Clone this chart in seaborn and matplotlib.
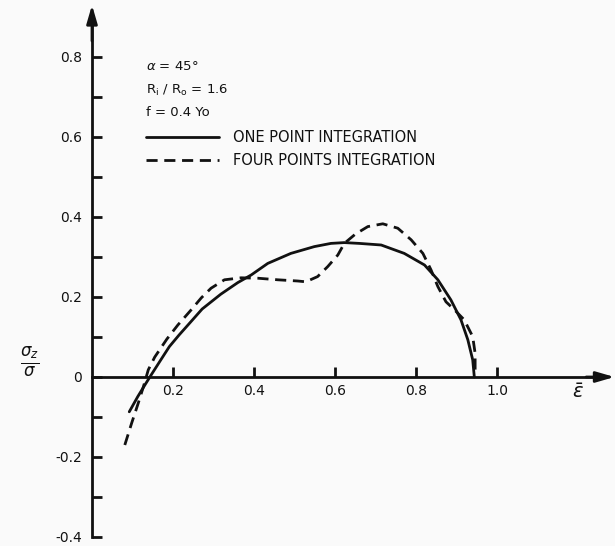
import matplotlib
matplotlib.use("Agg")
import matplotlib.pyplot as plt
import seaborn as sns
import pandas as pd

# ---- data ----
eps_one = [0.092, 0.113, 0.133, 0.146, 0.170, 0.191, 0.215, 0.244, 0.272, 0.318,
           0.360, 0.393, 0.434, 0.491, 0.549, 0.590, 0.623, 0.660, 0.714, 0.771,
           0.821, 0.854, 0.886, 0.911, 0.928, 0.940, 0.944]
sig_one = [-0.087, -0.049, -0.016, 0.005, 0.043, 0.076, 0.105, 0.138, 0.170, 0.207,
           0.236, 0.255, 0.284, 0.309, 0.326, 0.334, 0.336, 0.334, 0.330, 0.309,
           0.280, 0.243, 0.193, 0.143, 0.093, 0.043, 0.0]

eps_four = [0.081, 0.098, 0.114, 0.127, 0.139, 0.155, 0.185, 0.212, 0.245, 0.270,
            0.294, 0.327, 0.368, 0.409, 0.459, 0.508, 0.528, 0.557, 0.582, 0.607,
            0.623, 0.650, 0.681, 0.718, 0.755, 0.788, 0.817, 0.837, 0.854, 0.874,
            0.895, 0.919, 0.940, 0.946, 0.946]
sig_four = [-0.170, -0.115, -0.066, -0.024, 0.018, 0.050, 0.095, 0.130, 0.168, 0.198,
            0.222, 0.243, 0.248, 0.247, 0.243, 0.240, 0.238, 0.251, 0.276, 0.305,
            0.334, 0.357, 0.376, 0.383, 0.372, 0.343, 0.309, 0.268, 0.226, 0.188,
            0.168, 0.143, 0.101, 0.059, 0.015]

xtick_vals = [0.2, 0.4, 0.6, 0.8, 1.0]
xtick_labels = ["0.2", "0.4", "0.6", "0.8", "1.0"]
ytick_vals = [-0.4, -0.3, -0.2, -0.1, 0.0, 0.1, 0.2, 0.3, 0.4, 0.5, 0.6, 0.7, 0.8]
ytick_labels = ["-0.4", "", "-0.2", "", "0", "", "0.2", "", "0.4", "", "0.6", "", "0.8"]

series_names = ["ONE POINT INTEGRATION", "FOUR POINTS INTEGRATION"]
params_text = [r"$\alpha$ = 45°", r"R$_\mathregular{i}$ / R$_\mathregular{o}$ = 1.6", "f = 0.4 Yo"]

# ---- figure ----
sns.set_style("white")
plt.rcParams["font.family"] = ["DejaVu Sans"]
W, H = 615, 546
fig = plt.figure(figsize=(W / 100, H / 100), dpi=100)
fig.patch.set_facecolor("#fafafa")
ax = fig.add_axes([0, 0, 1, 1])
ax.set_facecolor("#fafafa")

df_one = pd.DataFrame({"eps": eps_one, "sig": sig_one})
df_four = pd.DataFrame({"eps": eps_four, "sig": sig_four})
ink = "#111111"
sns.lineplot(data=df_one, x="eps", y="sig", ax=ax, color=ink, lw=2.0,
             sort=False, estimator=None, label=series_names[0])
sns.lineplot(data=df_four, x="eps", y="sig", ax=ax, color=ink, lw=2.0,
             sort=False, estimator=None, label=series_names[1])
ax.lines[1].set_dashes((4, 2.4))
for ln in ax.lines[:2]:
    ln.set_solid_joinstyle("round")
    ln.set_dash_capstyle("butt")

# pixel -> data mapping
x0px, xscale = 92, 405
y0px, yscale = 377, 400
ax.set_xlim((0 - x0px) / xscale, (W - x0px) / xscale)
ax.set_ylim((y0px - H) / yscale, (y0px - 0) / yscale)

for s in ["top", "right"]:
    ax.spines[s].set_visible(False)
ax.spines["left"].set_position(("data", 0))
ax.spines["bottom"].set_position(("data", 0))
ax.spines["left"].set_bounds(-0.4, 0.88)
ax.spines["bottom"].set_bounds(0, 1.25)
for s in ["left", "bottom"]:
    ax.spines[s].set_linewidth(2.0)
    ax.spines[s].set_color(ink)

# arrows
ax.annotate("", xy=(0, 0.93), xytext=(0, 0.84),
            arrowprops=dict(arrowstyle="-|>,head_length=1.1,head_width=0.32",
                            color=ink, lw=2.0, shrinkA=0, shrinkB=0))
ax.annotate("", xy=(1.29, 0), xytext=(1.22, 0),
            arrowprops=dict(arrowstyle="-|>,head_length=1.1,head_width=0.32",
                            color=ink, lw=2.0, shrinkA=0, shrinkB=0))

ax.set_xticks(xtick_vals)
ax.set_xticklabels(xtick_labels)
ax.set_yticks(ytick_vals)
ax.set_yticklabels(ytick_labels)
ax.tick_params(axis="both", direction="in", length=7.5, width=2.0, color=ink,
               labelsize=10, labelcolor=ink, bottom=True, left=True)
ax.tick_params(axis="x", pad=5)
ax.tick_params(axis="y", pad=7)
ax.set_xlabel("")
ax.set_ylabel("")

# axis titles
ax.text(30 / W, 1 - 362 / H, r"$\frac{\sigma_z}{\sigma}$", transform=ax.transAxes,
        fontsize=17, ha="center", va="center", color=ink)
ax.text(578 / W, 1 - 393 / H, r"$\bar{\epsilon}$", transform=ax.transAxes,
        fontsize=14, ha="center", va="center", color=ink)

# parameters
for i, t in enumerate(params_text):
    ax.text(146 / W, 1 - (67 + 23 * i) / H, t, transform=ax.transAxes,
            fontsize=9.5, ha="left", va="center", color=ink)

leg = ax.legend(loc="upper left", bbox_to_anchor=(146 / W, 1 - 130 / H),
                frameon=False, fontsize=10.5, handlelength=5.0, handletextpad=0.95,
                labelspacing=0.55, borderpad=0, borderaxespad=0)
for t in leg.get_texts():
    t.set_color(ink)

fig.savefig("out.png", dpi=100, facecolor=fig.get_facecolor())
